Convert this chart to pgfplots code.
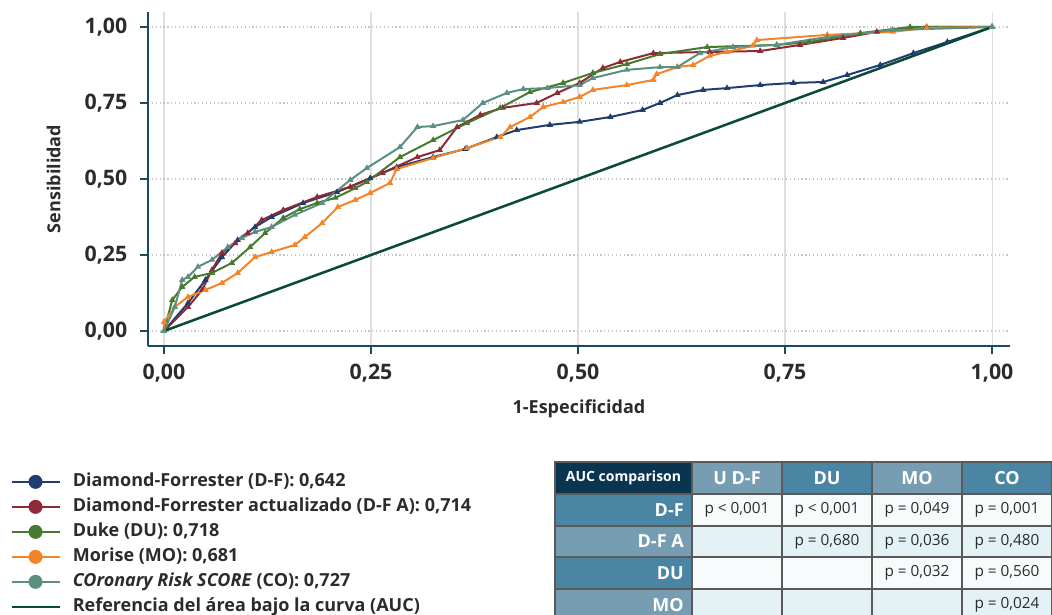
\documentclass[border=0pt]{standalone}
\usepackage{fontspec}
\setmainfont{Open Sans}
\usepackage{pgfplots}
\pgfplotsset{compat=1.18}
\definecolor{cDF}{HTML}{1F3D6E}
\definecolor{cDFA}{HTML}{8E2A35}
\definecolor{cDU}{HTML}{477A2F}
\definecolor{cMO}{HTML}{F2842A}
\definecolor{cCO}{HTML}{5B8F80}
\definecolor{cREF}{HTML}{0B4A36}
\definecolor{axiscol}{HTML}{1B4A63}
\definecolor{txt}{HTML}{2B2B2B}
\definecolor{hdark}{HTML}{0A3550}
\definecolor{hlight}{HTML}{779DB3}
\definecolor{hmid}{HTML}{4A86A4}
\definecolor{rowa}{HTML}{F7FBFC}
\definecolor{rowb}{HTML}{E4F2F5}
\definecolor{bord}{HTML}{5A5A5A}
\pgfplotsset{
  dotleg/.style={legend image code/.code={\draw[##1, mark=none, line width=1.6pt] (0pt,0pt) -- (36pt,0pt);
     \fill[##1] (18pt,0pt) circle (4.5pt);}},
  refleg/.style={legend image code/.code={\draw[##1] (0pt,0pt) -- (36pt,0pt);}}
}
\begin{document}
\begin{tikzpicture}
\useasboundingbox (0pt,0pt) rectangle (789pt,-460.5pt);
\begin{axis}[
  at={(111pt,-259.5pt)}, anchor=south west,
  scale only axis, width=646.5pt, height=250.5pt,
  xmin=-0.0193, xmax=1.0217, ymin=-0.0493, ymax=1.0493,
  axis x line*=bottom, axis y line*=left,
  axis line style={-, draw=axiscol, line width=1.1pt},
  xtick={0,0.25,0.5,0.75,1}, ytick={0,0.25,0.5,0.75,1},
  tick align=outside, major tick length=6pt,
  tick style={draw=axiscol, line width=1.1pt},
  /pgf/number format/.cd, fixed, fixed zerofill, precision=2, use comma, assume math mode=true, /pgfplots/.cd,
  ticklabel style={font=\bfseries\fontsize{16}{18}\selectfont, text=txt},
  xticklabel style={yshift=-4pt},
  yticklabel style={xshift=-6pt},
  xmajorgrids, ymajorgrids,
  x grid style={draw=gray!25, line width=0.8pt},
  y grid style={draw=gray!45, line width=0.9pt, dotted},
  xlabel={1-Especificidad}, ylabel={Sensibilidad},
  label style={font=\bfseries\fontsize{13.5}{16}\selectfont, text=txt},
  xlabel style={at={(axis description cs:0.5,-0.189)}, anchor=center},
  ylabel style={at={(axis description cs:-0.1095,0.5)}, anchor=center},
  legend cell align=left,
  legend style={at={(axis description cs:-0.1601,-0.380)}, anchor=north west,
    draw=none, fill=none, inner xsep=0pt, inner ysep=0pt,
    font=\bfseries\fontsize{13.5}{16}\selectfont, text=txt,
    nodes={inner sep=0pt, text height=10pt, text depth=3pt},
    row sep=5.75pt, column sep=9pt},
  every axis plot/.append style={line width=1.5pt, mark=triangle*, mark size=1.3pt},
]
\addplot[color=cDF, dotleg] coordinates {
(0,0) (0.029,0.092) (0.050,0.168) (0.070,0.243) (0.089,0.299) (0.110,0.342) (0.130,0.375)
(0.168,0.421) (0.209,0.457) (0.249,0.503) (0.281,0.539) (0.325,0.572) (0.364,0.599) (0.402,0.638)
(0.426,0.661) (0.466,0.678) (0.502,0.688) (0.539,0.704) (0.578,0.727) (0.599,0.750) (0.620,0.776)
(0.651,0.793) (0.680,0.799) (0.720,0.809) (0.760,0.816) (0.796,0.819) (0.825,0.842) (0.865,0.875)
(0.905,0.914) (0.946,0.951) (1,1)};
\addlegendentry{Diamond-Forrester (D-F): 0,642}
\addplot[color=cDFA, dotleg] coordinates {
(0,0) (0.029,0.079) (0.046,0.135) (0.058,0.201) (0.070,0.257) (0.086,0.289) (0.101,0.322)
(0.118,0.365) (0.144,0.398) (0.185,0.441) (0.225,0.474) (0.264,0.520) (0.306,0.572) (0.333,0.595)
(0.354,0.671) (0.382,0.711) (0.409,0.734) (0.450,0.750) (0.475,0.783) (0.502,0.816) (0.530,0.865)
(0.551,0.885) (0.591,0.914) (0.659,0.918) (0.720,0.921) (0.768,0.941) (0.820,0.964) (0.861,0.984)
(0.921,1.0) (1,1)};
\addlegendentry{Diamond-Forrester actualizado (D-F A): 0,714}
\addplot[color=cDU, dotleg] coordinates {
(0,0) (0.010,0.102) (0.022,0.145) (0.037,0.178) (0.058,0.191) (0.082,0.224) (0.104,0.276)
(0.122,0.322) (0.144,0.372) (0.164,0.401) (0.185,0.421) (0.207,0.438) (0.231,0.470) (0.245,0.490)
(0.285,0.572) (0.325,0.628) (0.366,0.684) (0.406,0.734) (0.442,0.786) (0.482,0.816) (0.518,0.849)
(0.559,0.878) (0.599,0.911) (0.656,0.934) (0.740,0.941) (0.780,0.951) (0.841,0.980) (0.901,1.0) (1,1)};
\addlegendentry{Duke (DU): 0,718}
\addplot[color=cMO, dotleg] coordinates {
(0,0) (0,0.03) (0.013,0.079) (0.029,0.112) (0.050,0.135) (0.070,0.158) (0.089,0.191) (0.110,0.243)
(0.130,0.260) (0.158,0.283) (0.170,0.309) (0.191,0.355) (0.210,0.408) (0.231,0.431) (0.249,0.454)
(0.273,0.487) (0.281,0.533) (0.325,0.569) (0.366,0.602) (0.406,0.638) (0.418,0.671) (0.442,0.704)
(0.458,0.737) (0.482,0.753) (0.502,0.770) (0.518,0.793) (0.559,0.809) (0.591,0.826) (0.595,0.845)
(0.620,0.868) (0.639,0.875) (0.659,0.905) (0.680,0.918) (0.711,0.938) (0.716,0.957) (0.801,0.974)
(0.880,0.984) (0.921,0.997) (1,1)};
\addlegendentry{Morise (MO): 0,681}
\addplot[color=cCO, dotleg] coordinates {
(0,0) (0.013,0.079) (0.022,0.168) (0.029,0.178) (0.041,0.211) (0.058,0.234) (0.077,0.276)
(0.094,0.306) (0.110,0.326) (0.130,0.342) (0.158,0.382) (0.191,0.421) (0.225,0.497) (0.245,0.536)
(0.285,0.605) (0.306,0.671) (0.325,0.674) (0.361,0.694) (0.385,0.750) (0.414,0.783) (0.434,0.796)
(0.463,0.799) (0.502,0.809) (0.518,0.832) (0.559,0.859) (0.599,0.868) (0.620,0.868) (0.647,0.914)
(0.687,0.934) (0.740,0.941) (0.801,0.967) (0.880,0.990) (1,1)};
\addlegendentry{\textit{COronary Risk SCORE} (CO): 0,727}
\addplot[color=cREF, line width=1.9pt, mark=none, refleg] coordinates {(0,0) (1,1)};
\addlegendentry{Referencia del área bajo la curva (AUC)}
\end{axis}
\begin{scope}[x=0.75pt, y=-0.75pt]
  \fill[hdark] (555,462) rectangle (692,494);
  \fill[hlight] (692,462) rectangle (782,494);
  \fill[hmid] (782,462) rectangle (872,494);
  \fill[hlight] (872,462) rectangle (962,494);
  \fill[hmid] (962,462) rectangle (1052,494);
  \fill[hmid] (555,494) rectangle (692,526);
  \fill[hlight] (555,526) rectangle (692,557);
  \fill[hmid] (555,557) rectangle (692,589);
  \fill[hlight] (555,589) rectangle (692,625);
  \fill[rowa] (692,494) rectangle (1052,526);
  \fill[rowb] (692,526) rectangle (1052,557);
  \fill[rowa] (692,557) rectangle (1052,589);
  \fill[rowb] (692,589) rectangle (1052,625);
  \draw[bord, line width=1.1pt] (555,462) rectangle (1052,625);
  \foreach \xx in {692,782,872,962} \draw[bord, line width=1.1pt] (\xx,462) -- (\xx,625);
  \foreach \yy in {494,526,557,589} \draw[bord, line width=1.1pt] (555,\yy) -- (1052,\yy);
  \node[font=\bfseries\fontsize{10.5}{12}\selectfont, text=white, inner sep=0pt] at (623.5,478) {AUC comparison};
  \begin{scope}[every node/.style={font=\bfseries\fontsize{13.5}{15}\selectfont, text=white, inner sep=0pt}]
    \node at (737,478) {U D-F};
    \node at (827,478) {DU};
    \node at (917,478) {MO};
    \node at (1007,478) {CO};
    \node[anchor=east] at (684,510) {D-F};
    \node[anchor=east] at (684,541.5) {D-F A};
    \node[anchor=east] at (684,573) {DU};
    \node[anchor=east] at (684,605) {MO};
  \end{scope}
  \begin{scope}[every node/.style={font=\fontsize{11.5}{13}\selectfont, text=txt, inner sep=0pt}]
    \node at (737,510) {p < 0,001};
    \node at (827,510) {p < 0,001};
    \node at (917,510) {p = 0,049};
    \node at (1007,510) {p = 0,001};
    \node at (827,541.5) {p = 0,680};
    \node at (917,541.5) {p = 0,036};
    \node at (1007,541.5) {p = 0,480};
    \node at (917,573) {p = 0,032};
    \node at (1007,573) {p = 0,560};
    \node at (1007,605) {p = 0,024};
  \end{scope}
\end{scope}
\end{tikzpicture}
\end{document}
